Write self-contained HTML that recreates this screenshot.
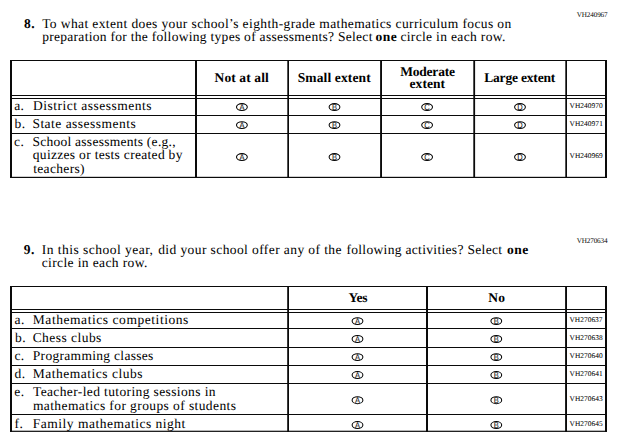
<!DOCTYPE html>
<html lang="en"><head><meta charset="utf-8"><title>Questionnaire</title>
<style>
html,body{margin:0;padding:0;background:#fff;}
body{width:620px;height:446px;position:relative;overflow:hidden;font-family:"Liberation Serif",serif;color:#000;text-rendering:geometricPrecision;}
.x{position:absolute;white-space:nowrap;}
.t{font-size:13.5px;line-height:14px;}
.b{font-size:13.5px;line-height:14px;font-weight:bold;}
.h{font-size:13.5px;line-height:14px;font-weight:bold;}
.c{font-size:7.4px;line-height:9px;-webkit-text-stroke:0.05px #000;}
.k{font-size:7.2px;line-height:9px;}
svg{position:absolute;left:0;top:0;}
.o ellipse{fill:none;stroke:#000;stroke-width:1.05;}
.o text{font-family:"Liberation Sans",sans-serif;font-size:8.4px;text-anchor:middle;fill:#000;}
</style></head><body>
<svg width="620" height="446" viewBox="0 0 620 446">
<g fill="#0a0a0a">
<rect x="10" y="60" width="597" height="1"/>
<rect x="10" y="95" width="597" height="1"/>
<rect x="10" y="98" width="597" height="1"/>
<rect x="10" y="115" width="597" height="1"/>
<rect x="10" y="133" width="597" height="1"/>
<rect x="10" y="176.8" width="597" height="1.2"/>
<rect x="10" y="60" width="2" height="118"/>
<rect x="195" y="60" width="2" height="118"/>
<rect x="287.3" y="60" width="1.7" height="118"/>
<rect x="380.1" y="60" width="1.9" height="118"/>
<rect x="473.3" y="60" width="1.8" height="118"/>
<rect x="565.3" y="60" width="1.7" height="118"/>
<rect x="605" y="60" width="2" height="118"/>
<rect x="10" y="286" width="597" height="1"/>
<rect x="10" y="309" width="597" height="1"/>
<rect x="10" y="312" width="597" height="1"/>
<rect x="10" y="328" width="597" height="1"/>
<rect x="10" y="347" width="597" height="1"/>
<rect x="10" y="365" width="597" height="1"/>
<rect x="10" y="383" width="597" height="1"/>
<rect x="10" y="414" width="597" height="1"/>
<rect x="10" y="430.7" width="597" height="1.2"/>
<rect x="10" y="286" width="2" height="145.9"/>
<rect x="287.2" y="286" width="1.8" height="145.9"/>
<rect x="426" y="286" width="2" height="145.9"/>
<rect x="565.1" y="286" width="1.9" height="145.9"/>
<rect x="605" y="286" width="2" height="145.9"/>
</g>
<g class="o"><ellipse cx="241.9" cy="107.05" rx="5.4" ry="3.45"/><text transform="translate(241.9 110.05) scale(0.9 1)">A</text></g>
<g class="o"><ellipse cx="334.5" cy="107.05" rx="5.4" ry="3.45"/><text transform="translate(334.5 110.05) scale(0.9 1)">B</text></g>
<g class="o"><ellipse cx="427.1" cy="107.05" rx="5.4" ry="3.45"/><text transform="translate(427.1 110.05) scale(0.9 1)">C</text></g>
<g class="o"><ellipse cx="520" cy="107.05" rx="5.4" ry="3.45"/><text transform="translate(520 110.05) scale(0.9 1)">D</text></g>
<g class="o"><ellipse cx="241.9" cy="125.1" rx="5.4" ry="3.45"/><text transform="translate(241.9 128.1) scale(0.9 1)">A</text></g>
<g class="o"><ellipse cx="334.5" cy="125.1" rx="5.4" ry="3.45"/><text transform="translate(334.5 128.1) scale(0.9 1)">B</text></g>
<g class="o"><ellipse cx="427.1" cy="125.1" rx="5.4" ry="3.45"/><text transform="translate(427.1 128.1) scale(0.9 1)">C</text></g>
<g class="o"><ellipse cx="520" cy="125.1" rx="5.4" ry="3.45"/><text transform="translate(520 128.1) scale(0.9 1)">D</text></g>
<g class="o"><ellipse cx="241.9" cy="157.05" rx="5.4" ry="3.45"/><text transform="translate(241.9 160.05) scale(0.9 1)">A</text></g>
<g class="o"><ellipse cx="334.5" cy="157.05" rx="5.4" ry="3.45"/><text transform="translate(334.5 160.05) scale(0.9 1)">B</text></g>
<g class="o"><ellipse cx="427.1" cy="157.05" rx="5.4" ry="3.45"/><text transform="translate(427.1 160.05) scale(0.9 1)">C</text></g>
<g class="o"><ellipse cx="520" cy="157.05" rx="5.4" ry="3.45"/><text transform="translate(520 160.05) scale(0.9 1)">D</text></g>
<g class="o"><ellipse cx="357.5" cy="321.1" rx="5.4" ry="3.45"/><text transform="translate(357.5 324.1) scale(0.9 1)">A</text></g>
<g class="o"><ellipse cx="496.3" cy="321.1" rx="5.4" ry="3.45"/><text transform="translate(496.3 324.1) scale(0.9 1)">B</text></g>
<g class="o"><ellipse cx="357.5" cy="339" rx="5.4" ry="3.45"/><text transform="translate(357.5 342) scale(0.9 1)">A</text></g>
<g class="o"><ellipse cx="496.3" cy="339" rx="5.4" ry="3.45"/><text transform="translate(496.3 342) scale(0.9 1)">B</text></g>
<g class="o"><ellipse cx="357.5" cy="357.1" rx="5.4" ry="3.45"/><text transform="translate(357.5 360.1) scale(0.9 1)">A</text></g>
<g class="o"><ellipse cx="496.3" cy="357.1" rx="5.4" ry="3.45"/><text transform="translate(496.3 360.1) scale(0.9 1)">B</text></g>
<g class="o"><ellipse cx="357.5" cy="375.05" rx="5.4" ry="3.45"/><text transform="translate(357.5 378.05) scale(0.9 1)">A</text></g>
<g class="o"><ellipse cx="496.3" cy="375.05" rx="5.4" ry="3.45"/><text transform="translate(496.3 378.05) scale(0.9 1)">B</text></g>
<g class="o"><ellipse cx="357.5" cy="400.2" rx="5.4" ry="3.45"/><text transform="translate(357.5 403.2) scale(0.9 1)">A</text></g>
<g class="o"><ellipse cx="496.3" cy="400.2" rx="5.4" ry="3.45"/><text transform="translate(496.3 403.2) scale(0.9 1)">B</text></g>
<g class="o"><ellipse cx="357.5" cy="425.05" rx="5.4" ry="3.45"/><text transform="translate(357.5 428.05) scale(0.9 1)">A</text></g>
<g class="o"><ellipse cx="496.3" cy="425.05" rx="5.4" ry="3.45"/><text transform="translate(496.3 428.05) scale(0.9 1)">B</text></g>
</svg>
<div class="x b" id="e0" style="left:23.95px;top:17.00px;letter-spacing:0.500px;">8.</div>
<div class="x t" id="e1" style="left:42.16px;top:17.00px;letter-spacing:0.388px;">To what extent does your school’s eighth-grade mathematics curriculum focus on</div>
<div class="x t" id="e2" style="left:42.18px;top:30.00px;letter-spacing:0.288px;">preparation for the following types of assessments? Select</div>
<div class="x b" id="e3" style="left:375.59px;top:30.00px;letter-spacing:0.456px;">one</div>
<div class="x t" id="e4" style="left:400.39px;top:30.00px;letter-spacing:0.343px;">circle in each row.</div>
<div class="x b" id="e5" style="left:23.83px;top:243.00px;letter-spacing:0.500px;">9.</div>
<div class="x t" id="e6" style="left:41.71px;top:243.00px;letter-spacing:0.476px;">In this school year,</div>
<div class="x t" id="e7" style="left:158.21px;top:243.00px;letter-spacing:0.405px;">did your school offer any of the</div>
<div class="x t" id="e8" style="left:346.38px;top:243.00px;letter-spacing:0.323px;">following activities? Select</div>
<div class="x b" id="e9" style="left:506.89px;top:243.00px;letter-spacing:0.556px;">one</div>
<div class="x t" id="e10" style="left:41.69px;top:256.00px;letter-spacing:0.382px;">circle in each row.</div>
<div class="x t" id="e11" style="left:14.13px;top:99.00px;letter-spacing:0.500px;">a.</div>
<div class="x t" id="e12" style="left:32.91px;top:99.00px;letter-spacing:0.497px;">District assessments</div>
<div class="x t" id="e13" style="left:14.60px;top:117.00px;letter-spacing:0.500px;">b.</div>
<div class="x t" id="e14" style="left:32.40px;top:117.00px;letter-spacing:0.479px;">State assessments</div>
<div class="x t" id="e15" style="left:14.09px;top:135.00px;letter-spacing:0.500px;">c.</div>
<div class="x t" id="e16" style="left:32.40px;top:135.00px;letter-spacing:0.262px;">School assessments (e.g.,</div>
<div class="x t" id="e17" style="left:32.81px;top:148.00px;letter-spacing:0.305px;">quizzes or tests created by</div>
<div class="x t" id="e18" style="left:33.17px;top:162.00px;letter-spacing:0.338px;">teachers)</div>
<div class="x t" id="e19" style="left:14.43px;top:313.00px;letter-spacing:0.500px;">a.</div>
<div class="x t" id="e20" style="left:32.81px;top:313.00px;letter-spacing:0.553px;">Mathematics competitions</div>
<div class="x t" id="e21" style="left:14.90px;top:331.00px;letter-spacing:0.500px;">b.</div>
<div class="x t" id="e22" style="left:32.65px;top:331.00px;letter-spacing:0.460px;">Chess clubs</div>
<div class="x t" id="e23" style="left:14.39px;top:349.00px;letter-spacing:0.500px;">c.</div>
<div class="x t" id="e24" style="left:32.81px;top:349.00px;letter-spacing:0.304px;">Programming classes</div>
<div class="x t" id="e25" style="left:14.41px;top:367.00px;letter-spacing:0.500px;">d.</div>
<div class="x t" id="e26" style="left:32.81px;top:367.00px;letter-spacing:0.504px;">Mathematics clubs</div>
<div class="x t" id="e27" style="left:14.37px;top:385.00px;letter-spacing:0.500px;">e.</div>
<div class="x t" id="e28" style="left:32.96px;top:385.00px;letter-spacing:0.377px;">Teacher-led tutoring sessions in</div>
<div class="x t" id="e29" style="left:32.92px;top:399.00px;letter-spacing:0.405px;">mathematics for groups of students</div>
<div class="x t" id="e30" style="left:14.48px;top:417.00px;letter-spacing:0.500px;">f.</div>
<div class="x t" id="e31" style="left:32.81px;top:417.00px;letter-spacing:0.500px;">Family mathematics night</div>
<div class="x h" id="e32" style="left:214.54px;top:71.00px;letter-spacing:0.116px;">Not at all</div>
<div class="x h" id="e33" style="left:297.68px;top:71.00px;letter-spacing:0.133px;">Small extent</div>
<div class="x h" id="e34" style="left:400.27px;top:65.00px;letter-spacing:-0.222px;">Moderate</div>
<div class="x h" id="e35" style="left:409.54px;top:77.00px;letter-spacing:0.057px;">extent</div>
<div class="x h" id="e36" style="left:484.17px;top:71.00px;letter-spacing:-0.174px;">Large extent</div>
<div class="x h" id="e37" style="left:348.46px;top:291.00px;letter-spacing:-0.167px;">Yes</div>
<div class="x h" id="e38" style="left:488.25px;top:291.00px;letter-spacing:0.350px;">No</div>
<div class="x k" id="e39" style="left:576.82px;top:11.00px;letter-spacing:-0.166px;">VH240967</div>
<div class="x k" id="e40" style="left:576.82px;top:237.00px;letter-spacing:-0.180px;">VH270634</div>
<div class="x c" id="e41" style="left:569.52px;top:101.00px;letter-spacing:0.044px;">VH240970</div>
<div class="x c" id="e42" style="left:569.52px;top:119.00px;letter-spacing:0.067px;">VH240971</div>
<div class="x c" id="e43" style="left:569.52px;top:151.00px;letter-spacing:0.047px;">VH240969</div>
<div class="x c" id="e44" style="left:569.52px;top:315.00px;letter-spacing:0.020px;">VH270637</div>
<div class="x c" id="e45" style="left:569.52px;top:333.00px;letter-spacing:0.030px;">VH270638</div>
<div class="x c" id="e46" style="left:569.52px;top:351.00px;letter-spacing:0.030px;">VH270640</div>
<div class="x c" id="e47" style="left:569.52px;top:369.00px;letter-spacing:0.053px;">VH270641</div>
<div class="x c" id="e48" style="left:569.52px;top:394.00px;letter-spacing:0.031px;">VH270643</div>
<div class="x c" id="e49" style="left:569.52px;top:419.00px;letter-spacing:0.031px;">VH270645</div>
</body></html>
